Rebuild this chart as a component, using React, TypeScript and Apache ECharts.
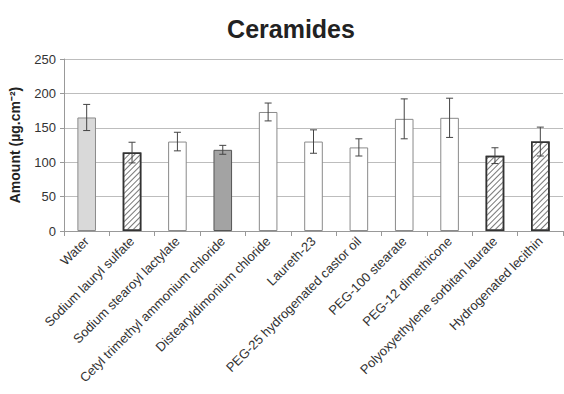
import React, { useEffect, useRef } from "react";
import * as echarts from "echarts";

const categories = [
  "Water",
  "Sodium lauryl sulfate",
  "Sodium stearoyl lactylate",
  "Cetyl trimethyl ammonium chloride",
  "Distearyldimonium chloride",
  "Laureth-23",
  "PEG-25 hydrogenated castor oil",
  "PEG-100 stearate",
  "PEG-12 dimethicone",
  "Polyoxyethylene sorbitan laurate",
  "Hydrogenated lecithin",
];
const means = [165, 114, 130, 118, 173, 130, 121.5, 163, 164.5, 109.5, 130];
const errors = [19, 15, 13.5, 6.5, 13, 17, 12.5, 29, 28.5, 11.5, 21];
const barKinds = ["water", "hatched", "plain", "dark", "plain", "plain", "plain", "plain", "plain", "hatched", "hatched"];
const yTicks = { min: 0, max: 250, interval: 50 };

const FONT = "'Liberation Sans', Arial, sans-serif";

function styleFor(kind: string) {
  if (kind === "water") return { color: "#d9d9d9", borderColor: "#8a8a8a", borderWidth: 1 };
  if (kind === "dark") return { color: "#a3a3a3", borderColor: "#555", borderWidth: 1 };
  if (kind === "hatched")
    return {
      color: "#ffffff",
      borderColor: "#333",
      borderWidth: 1.5,
      decal: {
        symbol: "rect",
        symbolSize: 1,
        dashArrayX: [1, 0],
        dashArrayY: [1, 2.5],
        rotation: -Math.PI / 4,
        color: "#777",
        backgroundColor: "#f4f4f4",
      },
    };
  return { color: "#ffffff", borderColor: "#8a8a8a", borderWidth: 1 };
}

export default function App() {
  const ref = useRef<HTMLDivElement>(null);
  useEffect(() => {
    document.body.style.margin = "0";
    const chart = echarts.init(ref.current!, undefined, { renderer: "svg" });
    chart.setOption({
      animation: false,
      backgroundColor: "#ffffff",
      title: {
        text: "Ceramides",
        left: 286,
        top: 11,
        textAlign: "center",
        textStyle: { fontFamily: FONT, fontSize: 25, fontWeight: "bold", color: "#222" },
      },
      grid: { left: 61, right: 1, top: 59, bottom: 163, containLabel: false },
      xAxis: {
        type: "category",
        data: categories,
        axisLine: { show: true, lineStyle: { color: "#999", width: 1 } },
        axisTick: { show: true, alignWithLabel: false, length: 5, lineStyle: { color: "#999" } },
        axisLabel: {
          rotate: 45,
          interval: 0,
          fontFamily: FONT,
          fontSize: 13,
          color: "#333",
          margin: 8,
        },
      },
      yAxis: {
        type: "value",
        min: yTicks.min,
        max: yTicks.max,
        interval: yTicks.interval,
        name: "Amount (µg.cm⁻²)",
        nameLocation: "middle",
        nameRotate: 90,
        nameGap: 42,
        nameTextStyle: { fontFamily: FONT, fontSize: 14, fontWeight: "bold", color: "#222" },
        axisLine: { show: true, lineStyle: { color: "#999", width: 1 } },
        axisTick: { show: true, length: 4, lineStyle: { color: "#999" } },
        axisLabel: { fontFamily: FONT, fontSize: 13, color: "#333", margin: 8 },
        splitLine: { show: true, lineStyle: { color: "#bdbdbd", width: 1 } },
      },
      series: [
        {
          type: "bar",
          barWidth: "41%",
          data: means.map((v, i) => ({ value: v, itemStyle: styleFor(barKinds[i]) })),
          z: 2,
        },
        {
          type: "custom",
          z: 3,
          data: means.map((v, i) => [i, v - errors[i], v + errors[i]]),
          renderItem: (params: any, api: any) => {
            const x = api.value(0);
            const lo = api.coord([x, api.value(1)]);
            const hi = api.coord([x, api.value(2)]);
            const cap = 3.5;
            const style = { stroke: "#444", lineWidth: 1 };
            return {
              type: "group",
              children: [
                { type: "line", shape: { x1: lo[0], y1: lo[1], x2: hi[0], y2: hi[1] }, style },
                { type: "line", shape: { x1: hi[0] - cap, y1: hi[1], x2: hi[0] + cap, y2: hi[1] }, style },
                { type: "line", shape: { x1: lo[0] - cap, y1: lo[1], x2: lo[0] + cap, y2: lo[1] }, style },
              ],
            };
          },
        },
      ],
    });
    return () => chart.dispose();
  }, []);
  return <div ref={ref} style={{ width: 564, height: 394 }} />;
}
